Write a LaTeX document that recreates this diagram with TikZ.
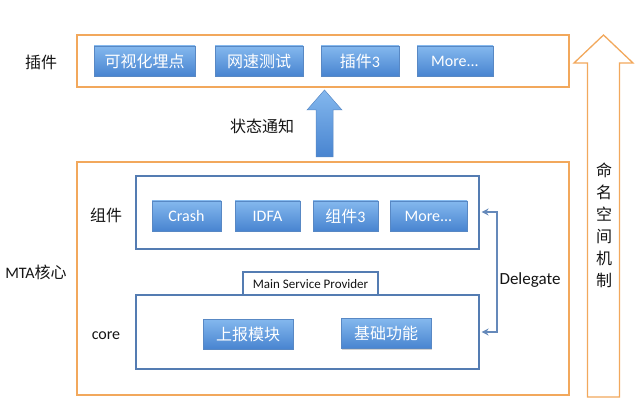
\documentclass[tikz,border=0pt]{standalone}
\usepackage{fontspec}
\setmainfont{Carlito}
\newfontfamily\cjk{Noto Sans CJK SC}
\usetikzlibrary{shadows,arrows.meta}
\definecolor{orng}{RGB}{242,168,92}
\definecolor{frameblue}{RGB}{84,124,178}
\definecolor{btntop}{RGB}{132,184,238}
\definecolor{btnbot}{RGB}{72,132,208}
\definecolor{btnline}{RGB}{88,136,196}
\definecolor{txt}{RGB}{20,20,20}
\tikzset{
  obox/.style={draw=orng,line width=1.3pt,fill=white,minimum width=#1},
  bframe/.style={draw=frameblue,line width=1.1pt,fill=white},
  btn/.style={draw=btnline,line width=0.6pt,top color=btntop,bottom color=btnbot,
    text=white,font=\fontsize{16}{18}\selectfont,minimum height=30pt,inner sep=0pt,
    drop shadow={shadow xshift=1pt,shadow yshift=-1.2pt,opacity=0.35}},
  cj/.style={font=\cjk\fontsize{16}{18}\selectfont},
  lbl/.style={text=txt,font=\fontsize{16}{19}\selectfont,inner sep=0pt},
}
\begin{document}
\begin{tikzpicture}[x=1pt,y=-1pt]
\useasboundingbox (0,0) rectangle (640,406);
% top plugin box
\node[obox=492pt,minimum height=52pt] (plug) at (323,61) {};
\node[btn,cj,minimum width=101pt] (p1) at (144.5,61) {可视化埋点};
\node[btn,cj,minimum width=88pt] (p2) at (259,61) {网速测试};
\node[btn,minimum width=78pt] (p3) at (360,61) {{\cjk 插件}3};
\node[btn,minimum width=76pt] (p4) at (455,61) {More...};
\node[lbl,cj] (lplug) at (41,62) {插件};
% status arrow
\coordinate (sa) at (324.5,90);
\draw[btnline,line width=0.5pt,top color=btntop,bottom color=btnbot]
  (sa) -- ++(17.5,20) -- ++(-9,0) -- ++(0,47) -- ++(-17,0) -- ++(0,-47) -- ++(-9,0) -- cycle;
\node[lbl,cj] (lstat) at (262,126) {状态通知};
% core box
\node[obox=492pt,minimum height=233pt] (mta) at (323,278.5) {};
\node[lbl] (lmta) at (36,272) {MTA{\cjk 核心}};
% components frame
\node[bframe,minimum width=343pt,minimum height=73pt] (comp) at (307.5,212.5) {};
\node[lbl,cj] (lcomp) at (106,215) {组件};
\node[btn,minimum width=69pt] (c1) at (186.5,216) {Crash};
\node[btn,minimum width=65pt] (c2) at (267.5,216) {IDFA};
\node[btn,minimum width=65pt] (c3) at (345.5,216) {{\cjk 组件}3};
\node[btn,minimum width=77pt] (c4) at (428.5,216) {More...};
% main service provider tab
\node[draw=frameblue,line width=1.1pt,fill=white,minimum width=135pt,minimum height=24pt,
  inner sep=0pt,font=\fontsize{13}{15}\selectfont,text=txt] (msp) at (310.5,284) {Main Service Provider};
% core frame
\node[bframe,minimum width=343pt,minimum height=74pt] (core) at (307.5,332) {};
\node[lbl] (lcore) at (106,336) {core};
\node[btn,cj,minimum width=90pt] (k1) at (248,334) {上报模块};
\node[btn,cj,minimum width=90pt] (k2) at (386,333.5) {基础功能};
% delegate
\coordinate (dtop) at (comp.east |- 0,212);
\coordinate (dbot) at (core.east |- 0,332);
\draw[frameblue!90,line width=2pt,{Stealth[length=7pt,width=7pt]}-{Stealth[length=7pt,width=7pt]}]
  ([xshift=2pt]dtop) -- ++(15,0) |- ([xshift=2pt]dbot);
\node[lbl,font=\fontsize{17}{20}\selectfont] (ldel) at (530,280) {Delegate};
% namespace arrow
\coordinate (nt) at (603.5,35);
\draw[orng,line width=1.3pt,fill=white]
  (nt) -- ++(29.5,28) -- ++(-13.5,0) -- ++(0,334) -- ++(-32,0) -- ++(0,-334) -- ++(-13.5,0) -- cycle;
\node[lbl,align=center,font=\cjk\fontsize{16}{22}\selectfont] (lns) at (604,225) {命\\名\\空\\间\\机\\制};
\end{tikzpicture}
\end{document}
